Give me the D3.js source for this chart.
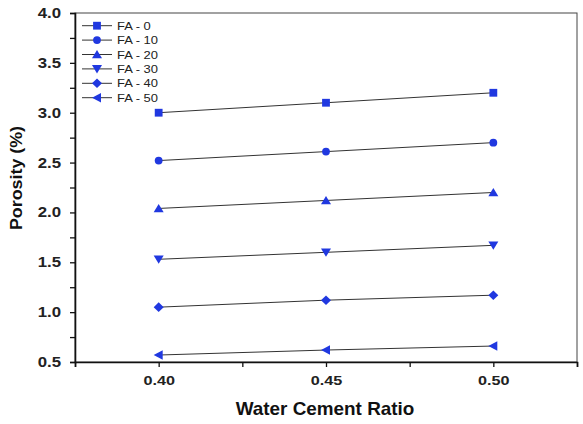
<!DOCTYPE html>
<html>
<head>
<meta charset="utf-8">
<script src="https://cdn.jsdelivr.net/npm/d3@7"></script>
<style>
  body { margin: 0; background: #fff; }
  svg { display: block; font-family: "Liberation Sans", Arial, sans-serif; }
</style>
</head>
<body>
<svg id="chart" width="583" height="424"></svg>
<script>
// data
const ratios = [0.40, 0.45, 0.50];
const seriesNames = ["FA - 0", "FA - 10", "FA - 20", "FA - 30", "FA - 40", "FA - 50"];
const fa0  = [3.00, 3.10, 3.20];
const fa10 = [2.52, 2.61, 2.70];
const fa20 = [2.04, 2.12, 2.20];
const fa30 = [1.53, 1.60, 1.67];
const fa40 = [1.05, 1.12, 1.17];
const fa50 = [0.57, 0.62, 0.66];
const yTicks = [0.5, 1.0, 1.5, 2.0, 2.5, 3.0, 3.5, 4.0];
const xTicks = [0.40, 0.45, 0.50];

const series = [fa0, fa10, fa20, fa30, fa40, fa50];
const shapes = ["square", "circle", "triUp", "triDown", "diamond", "triLeft"];

const margin = {top: 13, right: 6, bottom: 62, left: 75};
const width = 583, height = 424;
// the text in the original is a bit wide, stretch it horizontally
const stretch = 1.2;

const svg = d3.select("#chart");

const x = d3.scaleLinear().domain([0.375, 0.525]).range([margin.left, width - margin.right]);
const y = d3.scaleLinear().domain([0.5, 4.0]).range([height - margin.bottom, margin.top]);

const blue = "#2038e0";

function marker(g, shape, cx, cy) {
    let el;
    if (shape === "square") {
        el = g.append("rect").attr("x", cx - 3.9).attr("y", cy - 3.9).attr("width", 7.8).attr("height", 7.8);
    } else if (shape === "circle") {
        el = g.append("circle").attr("cx", cx).attr("cy", cy).attr("r", 3.9);
    } else {
        let pts;
        if (shape === "triUp") pts = [[0, -4.5], [5, 3.8], [-5, 3.8]];
        if (shape === "triDown") pts = [[0, 4.5], [5, -3.8], [-5, -3.8]];
        if (shape === "diamond") pts = [[0, -4.8], [5, 0], [0, 4.8], [-5, 0]];
        if (shape === "triLeft") pts = [[-5, 0], [4, -4.8], [4, 4.8]];
        el = g.append("polygon").attr("points", pts.map(p => [cx + p[0], cy + p[1]].join(",")).join(" "));
    }
    el.attr("fill", blue);
}

// frame (top and right)
svg.append("rect")
    .attr("x", margin.left).attr("y", margin.top)
    .attr("width", width - margin.right - margin.left)
    .attr("height", height - margin.bottom - margin.top)
    .attr("fill", "none").attr("stroke", "#444").attr("stroke-width", 1);

// x axis
const xAxis = d3.axisBottom(x)
    .tickValues(d3.range(0.375, 0.5251, 0.025))
    .tickSize(5)
    .tickFormat(d => xTicks.some(t => Math.abs(t - d) < 1e-6) ? d3.format(".2f")(d) : "");
const gx = svg.append("g")
    .attr("transform", `translate(0,${height - margin.bottom})`)
    .call(xAxis);
gx.select(".domain").attr("stroke", "#111").attr("stroke-width", 1.6);
gx.selectAll(".tick line").attr("stroke", "#111").attr("stroke-width", 1.3);
gx.selectAll(".tick text")
    .attr("dy", 0).attr("y", 23)
    .attr("transform", `scale(${stretch},1)`)
    .style("font-size", "13.5px").style("font-weight", "bold").attr("fill", "#222");

// y axis
const yAxis = d3.axisLeft(y)
    .tickValues(d3.range(0.5, 4.001, 0.25))
    .tickSize(5)
    .tickFormat(d => yTicks.some(t => Math.abs(t - d) < 1e-6) ? d3.format(".1f")(d) : "");
const gy = svg.append("g")
    .attr("transform", `translate(${margin.left},0)`)
    .call(yAxis);
gy.select(".domain").attr("stroke", "#111").attr("stroke-width", 1.6);
gy.selectAll(".tick line").attr("stroke", "#111").attr("stroke-width", 1.3);
gy.selectAll(".tick text")
    .attr("x", -14 / stretch)
    .attr("transform", `scale(${stretch},1)`)
    .style("font-size", "14px").style("font-weight", "bold").attr("fill", "#222");

// axis titles
svg.append("text")
    .attr("transform", "translate(325,415) scale(1.05,1)")
    .attr("text-anchor", "middle")
    .style("font-size", "18px").style("font-weight", "bold").attr("fill", "#111")
    .text("Water Cement Ratio");

svg.append("text")
    .attr("transform", "translate(21.5,178) rotate(-90) scale(1.05,1)")
    .attr("text-anchor", "middle")
    .style("font-size", "17px").style("font-weight", "bold").attr("fill", "#111")
    .text("Porosity (%)");

// lines and markers
const line = d3.line().x((d, i) => x(ratios[i])).y(d => y(d));
series.forEach((vals, k) => {
    svg.append("path")
        .datum(vals)
        .attr("d", line)
        .attr("fill", "none")
        .attr("stroke", "#333")
        .attr("stroke-width", 1);
    const g = svg.append("g");
    vals.forEach((v, i) => marker(g, shapes[k], x(ratios[i]), y(v)));
});

// legend
const legend = svg.append("g");
seriesNames.forEach((name, k) => {
    const ly = 25.7 + k * 14.4;
    legend.append("line")
        .attr("x1", 82).attr("x2", 112).attr("y1", ly).attr("y2", ly)
        .attr("stroke", "#333").attr("stroke-width", 1);
    marker(legend, shapes[k], 97, ly);
    legend.append("text")
        .attr("transform", `translate(117,${ly + 4}) scale(${stretch},1)`)
        .style("font-size", "10.8px").attr("fill", "#222")
        .text(name);
});
</script>
</body>
</html>
